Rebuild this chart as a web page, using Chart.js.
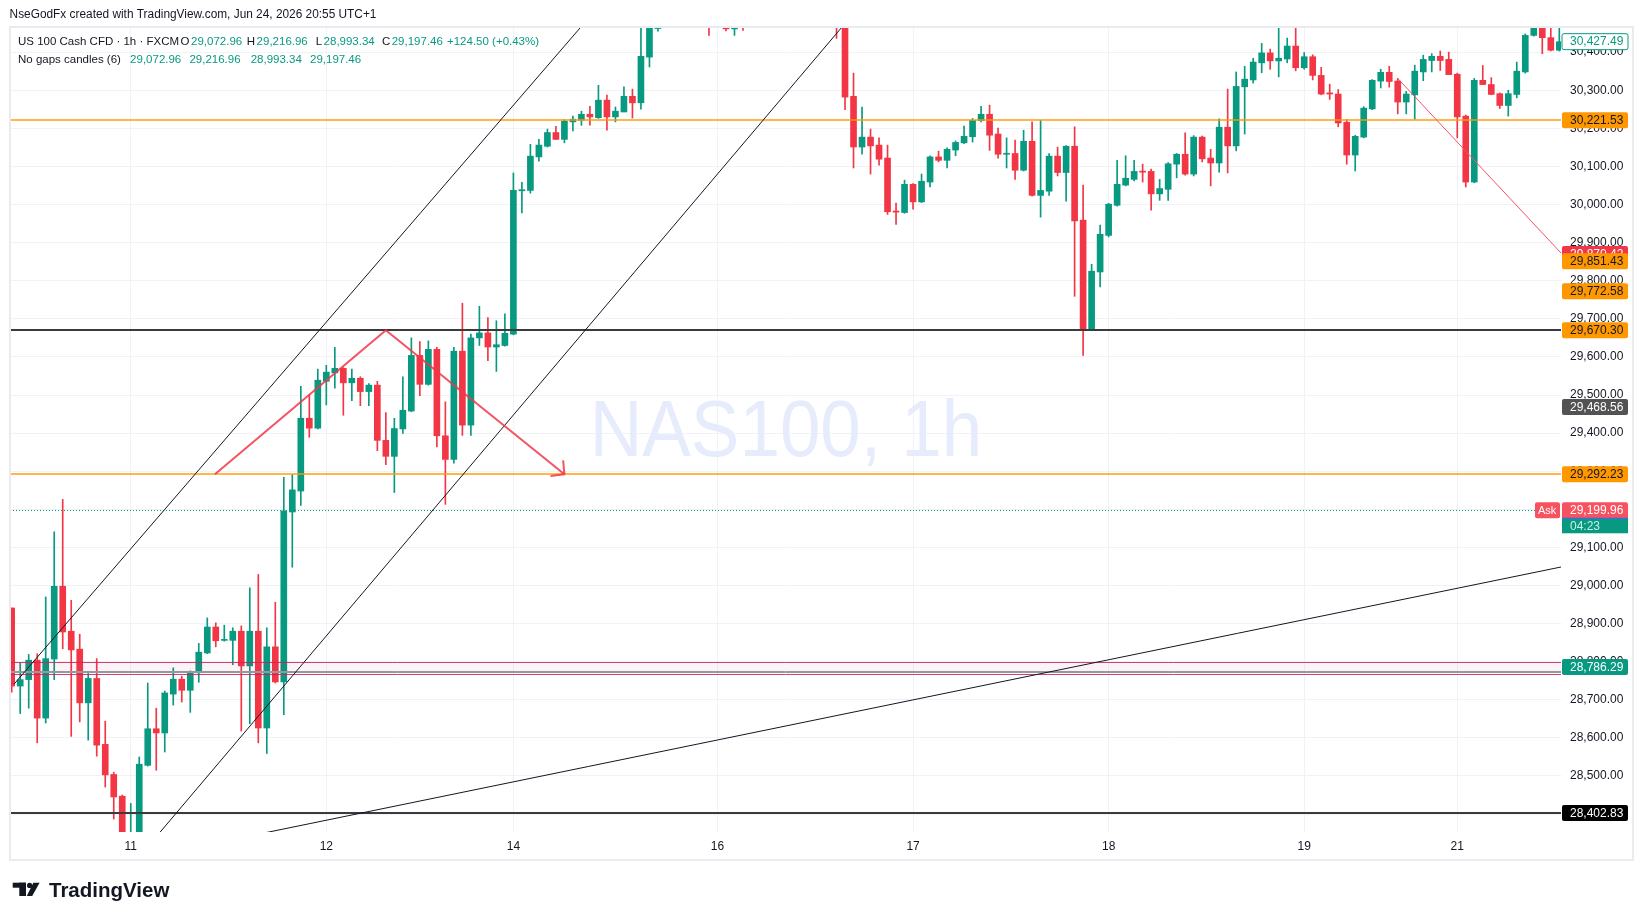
<!DOCTYPE html>
<html>
<head>
<meta charset="utf-8">
<title>NAS100, 1h</title>
<script src="https://cdn.jsdelivr.net/npm/chart.js@4.4.1/dist/chart.umd.min.js"></script>
<style>
  html, body { margin: 0; padding: 0; background: #ffffff; }
  #wrap { width: 1643px; height: 920px; }
</style>
</head>
<body>
<div id="wrap"><canvas id="chart" width="1643" height="920"></canvas></div>
<script>
// hourly candles, index 0..182 (no gaps)
const opens = [
  28941,28736,28753,28804,28652,28807,28998,28880,28833,28692,
  28756,28583,28504,28447,28340,28345,28528,28624,28613,28715,
  28754,28725,28771,28823,28891,28856,28856,28880,28789,28880,
  28626,28839,28747,29193,29248,29439,29413,29536,29558,29570,
  29532,29544,29509,29526,29381,29339,29411,29458,29604,29528,
  29620,29393,29331,29615,29421,29650,29663,29626,29630,29660,
  30036,30037,30125,30153,30189,30171,30217,30221,30237,30228,
  30274,30230,30243,30284,30267,30387,30462,30520,30560,30545,
  30595,30575,30510,30480,30525,30461,30505,30490,30560,30595,
  30580,30635,30620,30600,30575,30610,30590,30540,30500,30284,
  30151,30177,30156,30122,29983,29979,30053,30007,30059,30125,
  30116,30143,30162,30178,30220,30237,30185,30132,30134,30090,
  30166,30024,30035,30127,30084,30153,29959,29672,29823,29919,
  29998,30051,30066,30087,30087,30028,30040,30106,30132,30080,
  30177,30122,30109,30203,30154,30309,30327,30372,30398,30377,
  30382,30416,30359,30388,30339,30293,30290,30216,30130,30177,
  30251,30324,30347,30324,30269,30288,30348,30378,30389,30381,
  30342,30232,30059,30326,30315,30291,30260,30289,30348,30444,
  30470,30438,30405
];
const highs = [
  28941,28797,28819,28821,28970,29141,29226,28961,28872,28769,
  28808,28644,28510,28450,28428,28550,28744,28678,28723,28784,
  28762,28776,28848,28915,28902,28896,28889,28894,28994,29029,
  28889,28956,29284,29291,29523,29500,29568,29578,29625,29572,
  29568,29548,29530,29536,29454,29439,29548,29650,29640,29642,
  29625,29482,29625,29741,29660,29733,29703,29695,29713,30083,
  30058,30158,30171,30198,30205,30223,30232,30245,30258,30313,
  30287,30256,30309,30303,30480,30490,30540,30575,30600,30610,
  30640,30590,30530,30540,30535,30520,30560,30580,30610,30630,
  30650,30680,30660,30640,30620,30650,30605,30560,30530,30345,
  30256,30198,30175,30156,30004,30064,30055,30080,30128,30140,
  30149,30167,30206,30226,30258,30261,30201,30175,30169,30195,
  30217,30221,30134,30151,30155,30204,30051,29843,29946,30003,
  30116,30128,30116,30106,30093,30066,30110,30134,30188,30181,
  30180,30145,30225,30303,30348,30363,30384,30423,30408,30465,
  30437,30475,30399,30393,30360,30316,30302,30223,30182,30257,
  30328,30355,30363,30331,30297,30366,30392,30396,30403,30400,
  30345,30235,30331,30365,30333,30293,30300,30374,30448,30480,
  30485,30480,30480
];
const lows = [
  28720,28664,28678,28587,28639,28753,28834,28604,28642,28594,
  28552,28471,28387,28320,28300,28310,28526,28515,28563,28686,
  28694,28667,28746,28821,28839,28854,28792,28618,28637,28587,
  28559,28744,28661,29048,29210,29389,29411,29474,29518,29447,
  29485,29472,29472,29354,29317,29244,29399,29456,29498,29526,
  29364,29213,29321,29394,29394,29630,29590,29562,29628,29658,
  29978,30030,30114,30151,30171,30162,30193,30208,30208,30226,
  30195,30217,30243,30227,30250,30361,30455,30500,30530,30535,
  30560,30490,30444,30470,30456,30444,30457,30480,30540,30570,
  30575,30610,30590,30560,30550,30580,30520,30436,30249,30096,
  30132,30080,30103,29974,29948,29977,29988,30005,30046,30112,
  30096,30128,30160,30164,30217,30142,30122,30096,30066,30088,
  30022,29967,30024,30075,30009,29759,29604,29670,29784,29915,
  29996,30049,30062,30059,29985,30011,30011,30070,30077,30075,
  30112,30049,30085,30083,30141,30185,30319,30346,30355,30335,
  30372,30351,30355,30327,30288,30276,30204,30106,30088,30175,
  30249,30306,30308,30238,30238,30224,30325,30348,30352,30341,
  30175,30046,30057,30315,30288,30252,30232,30280,30345,30442,
  30396,30403,30403
];
const closes = [
  28736,28753,28804,28652,28808,28998,28878,28831,28692,28756,
  28581,28503,28445,28340,28345,28531,28624,28613,28718,28754,
  28725,28773,28825,28891,28855,28858,28880,28789,28880,28626,
  28839,28747,29196,29251,29439,29413,29539,29560,29570,29532,
  29544,29509,29526,29381,29339,29412,29460,29604,29528,29620,
  29393,29331,29615,29421,29650,29663,29626,29632,29662,30037,
  30039,30127,30156,30189,30171,30219,30224,30237,30230,30274,
  30230,30245,30284,30267,30389,30464,30520,30560,30545,30595,
  30575,30510,30480,30525,30461,30505,30490,30560,30595,30580,
  30635,30620,30600,30575,30610,30590,30540,30500,30282,30151,
  30177,30154,30119,29981,29980,30053,30007,30061,30125,30116,
  30145,30163,30179,30221,30237,30182,30132,30134,30090,30166,
  30024,30037,30127,30084,30153,29957,29672,29825,29922,30001,
  30053,30069,30087,30085,30028,30042,30107,30132,30080,30177,
  30120,30109,30203,30154,30310,30329,30374,30398,30377,30384,
  30416,30359,30388,30339,30290,30290,30214,30130,30179,30253,
  30326,30347,30323,30269,30290,30350,30381,30389,30378,30341,
  30230,30059,30326,30315,30289,30260,30291,30350,30444,30464,
  30438,30405,30427.49
];

// time axis: candle index of each day label
const dayTicks = [14, 37, 59, 83, 106, 129, 152, 170];
const dayLabels = ['11', '12', '14', '16', '17', '18', '19', '21'];
const priceTicks = [28400, 28500, 28600, 28700, 28800, 28900, 29000, 29100, 29200, 29300,
  29400, 29500, 29600, 29700, 29800, 29900, 30000, 30100, 30200, 30300, 30400];

// horizontal levels
const orangeLevels = [30221.53, 29292.23];
const blackLevels = [29670.30, 28402.83];
const zoneBand = [28769, 28800];
const zoneInner = [28773, 28776];
const lastPrice = 29197.46;
const askPrice = 29199.96;
const countdown = '04:23';

// axis tags
const orangeTags = [30221.53, 29851.43, 29772.58, 29670.30, 29292.23];
const redTag = 29870.42;
const greyTag = 29468.56;
const tealTag = 28786.29;
const blackTag = 28402.83;
const lastBarClose = 30427.49;

// drawings as [index, price]
const upperChannel = [[0.27, 28741], [80, 30804]];
const lowerChannel = [[15, 28288], [100, 30528]];
const longTrend = [[25, 28329], [182.3, 29049]];
const zigzag = [[23.9, 29292], [44, 29670], [65, 29292]];
const redRay = [[163, 30331], [182.3, 29870.42]];

// legend values
const legendOHLC = [29072.96, 29216.96, 28993.34, 29197.46];
const legendChange = '+124.50 (+0.43%)';

const FONT = '"Liberation Sans", Arial, sans-serif';
const GREEN = '#089981';
const RED = '#f23645';
const TEXT = '#131722';

const idx = opens.map((_, i) => i);
const colors = idx.map(i => closes[i] >= opens[i] ? GREEN : RED);
const fmt = v => v.toLocaleString('en-US', { minimumFractionDigits: 2, maximumFractionDigits: 2 });

function polyline(chart, pts) {
  const ctx = chart.ctx, xs = chart.scales.x, ys = chart.scales.y;
  ctx.beginPath();
  pts.forEach((p, k) => {
    const x = xs.getPixelForValue(p[0]), y = ys.getPixelForValue(p[1]);
    if (k === 0) ctx.moveTo(x, y); else ctx.lineTo(x, y);
  });
  ctx.stroke();
}

function hline(chart, price, color, width, dash) {
  const ctx = chart.ctx, a = chart.chartArea;
  const y = Math.round(chart.scales.y.getPixelForValue(price)) + (width % 2 ? 0.5 : 0);
  ctx.save();
  ctx.strokeStyle = color;
  ctx.lineWidth = width;
  ctx.setLineDash(dash || []);
  ctx.beginPath();
  ctx.moveTo(a.left, y);
  ctx.lineTo(a.right, y);
  ctx.stroke();
  ctx.restore();
}

function tag(chart, price, text, bg, fg, border) {
  const ctx = chart.ctx;
  const x = chart.chartArea.right + 1, w = 66, h = 16;
  const y = chart.scales.y.getPixelForValue(price);
  ctx.save();
  ctx.beginPath();
  ctx.roundRect(x, y - h / 2, w, h, 2);
  ctx.fillStyle = bg;
  ctx.fill();
  if (border) {
    ctx.strokeStyle = border;
    ctx.lineWidth = 1;
    ctx.stroke();
  }
  ctx.fillStyle = fg;
  ctx.font = '12px ' + FONT;
  ctx.textBaseline = 'middle';
  ctx.textAlign = 'left';
  ctx.fillText(text, x + 8, y + 0.5);
  ctx.restore();
}

function fitText(ctx, text, x, y, width, weight) {
  ctx.font = (weight || '') + ' 10px ' + FONT;
  const size = 10 * width / ctx.measureText(text).width;
  ctx.font = (weight || '') + ' ' + size.toFixed(2) + 'px ' + FONT;
  ctx.fillText(text, x, y);
}

// draw text runs left to right, never letting one run into the next
function runs(ctx, parts, y) {
  let end = 0;
  parts.forEach(s => {
    const x = Math.max(s[1], end + 1.5);
    ctx.fillStyle = s[2];
    ctx.fillText(s[0], x, y);
    end = x + ctx.measureText(s[0]).width;
  });
}

const overlay = {
  id: 'overlay',
  beforeDatasetsDraw(chart) {
    const ctx = chart.ctx;
    ctx.save();
    ctx.fillStyle = '#e7ecfc';
    ctx.font = '80px ' + FONT;
    ctx.textAlign = 'center';
    ctx.textBaseline = 'alphabetic';
    ctx.translate(786, 456);
    ctx.scale(0.91, 1);
    ctx.fillText('NAS100, 1h', 0, 0);
    ctx.restore();
  },
  afterDatasetsDraw(chart) {
    const ctx = chart.ctx, a = chart.chartArea, xs = chart.scales.x, ys = chart.scales.y;
    ctx.save();
    ctx.beginPath();
    ctx.rect(a.left, a.top, a.right - a.left, a.bottom - a.top);
    ctx.clip();

    // pink zone
    const zt = ys.getPixelForValue(zoneBand[1]), zb = ys.getPixelForValue(zoneBand[0]);
    ctx.fillStyle = 'rgba(194,24,91,0.05)';
    ctx.fillRect(a.left, zt, a.right - a.left, zb - zt);
    zoneInner.forEach(v => hline(chart, v, '#9598a1', 1));
    zoneBand.forEach(v => hline(chart, v, 'rgba(204,32,92,0.85)', 1));

    orangeLevels.forEach(v => hline(chart, v, 'rgba(255,152,0,0.7)', 2));
    blackLevels.forEach(v => hline(chart, v, '#3b3b3b', 2));

    // last price dotted line
    const ly = Math.round(ys.getPixelForValue(lastPrice)) + 0.5;
    ctx.strokeStyle = GREEN;
    ctx.lineWidth = 1;
    ctx.setLineDash([1, 2]);
    ctx.beginPath();
    ctx.moveTo(a.left, ly);
    ctx.lineTo(a.right - 26, ly);
    ctx.stroke();
    ctx.setLineDash([]);

    // channel and trend lines
    ctx.strokeStyle = TEXT;
    ctx.lineWidth = 1;
    polyline(chart, upperChannel);
    polyline(chart, lowerChannel);
    polyline(chart, longTrend);

    // red ray
    ctx.strokeStyle = '#f7525f';
    polyline(chart, redRay);

    // zigzag arrow
    ctx.strokeStyle = 'rgba(242,54,69,0.85)';
    ctx.lineWidth = 2;
    ctx.lineJoin = 'round';
    polyline(chart, zigzag);
    const p1 = zigzag[zigzag.length - 2], p2 = zigzag[zigzag.length - 1];
    const x1 = xs.getPixelForValue(p1[0]), y1 = ys.getPixelForValue(p1[1]);
    const x2 = xs.getPixelForValue(p2[0]), y2 = ys.getPixelForValue(p2[1]);
    const ang = Math.atan2(y1 - y2, x1 - x2);
    ctx.beginPath();
    ctx.moveTo(x2 + 14 * Math.cos(ang - 0.8), y2 + 14 * Math.sin(ang - 0.8));
    ctx.lineTo(x2, y2);
    ctx.lineTo(x2 + 14 * Math.cos(ang + 0.8), y2 + 14 * Math.sin(ang + 0.8));
    ctx.stroke();
    ctx.restore();
  },
  afterDraw(chart) {
    const ctx = chart.ctx, a = chart.chartArea, ys = chart.scales.y;

    // price axis tags
    tag(chart, lastBarClose, fmt(lastBarClose), '#ffffff', GREEN, GREEN);
    tag(chart, redTag, fmt(redTag), RED, '#ffffff');
    orangeTags.forEach(v => tag(chart, v, fmt(v), '#ff9800', TEXT));
    tag(chart, greyTag, fmt(greyTag), '#535353', '#ffffff');
    tag(chart, tealTag, fmt(tealTag), GREEN, '#ffffff');
    tag(chart, blackTag, fmt(blackTag), '#000000', '#ffffff');

    // ask / countdown tag
    const y = ys.getPixelForValue(lastPrice);
    ctx.save();
    ctx.fillStyle = GREEN;
    ctx.fillRect(a.right + 1, y + 8, 66, 15);
    ctx.fillStyle = '#f7525f';
    ctx.beginPath();
    ctx.roundRect(a.right + 1, y - 8, 66, 16, [2, 2, 0, 0]);
    ctx.fill();
    ctx.beginPath();
    ctx.roundRect(a.right - 26, y - 8, 25, 16, 2);
    ctx.fill();
    ctx.fillStyle = '#2962ff';
    ctx.fillRect(a.right + 1, y + 7.5, 66, 1);
    ctx.fillStyle = '#ffffff';
    ctx.font = '12px ' + FONT;
    ctx.textBaseline = 'middle';
    ctx.fillText(fmt(askPrice), a.right + 9, y + 0.5);
    ctx.font = '11px ' + FONT;
    ctx.fillText('Ask', a.right - 23, y + 0.5);
    ctx.fillStyle = '#c8efe4';
    ctx.font = '12px ' + FONT;
    ctx.fillText(countdown, a.right + 9, y + 16);
    ctx.restore();

    // pane frame
    ctx.save();
    ctx.strokeStyle = '#e9ebf0';
    ctx.lineWidth = 2;
    ctx.strokeRect(10, 27, 1623, 833);
    ctx.restore();

    // header and legend
    ctx.save();
    ctx.textBaseline = 'middle';
    ctx.fillStyle = TEXT;
    fitText(ctx, 'NseGodFx created with TradingView.com, Jun 24, 2026 20:55 UTC+1', 9.6, 15.2, 367);
    ctx.font = '11.5px ' + FONT;
    const v = legendOHLC.map(fmt);
    runs(ctx, [
      ['US 100 Cash CFD \u00b7 1h \u00b7 FXCM', 18, TEXT], ['O', 180.6, TEXT], [v[0], 188, GREEN],
      ['H', 246.8, TEXT], [v[1], 255.6, GREEN], ['L', 315.7, TEXT], [v[2], 322.2, GREEN],
      ['C', 381.9, TEXT], [v[3], 389.6, GREEN], [legendChange, 447, GREEN]
    ], 42.3);
    runs(ctx, [
      ['No gaps candles (6)', 18, TEXT], [v[0], 130.1, GREEN], [v[1], 189.4, GREEN],
      [v[2], 250.7, GREEN], [v[3], 310, GREEN]
    ], 60);
    ctx.restore();

    // TradingView logo
    ctx.save();
    ctx.fillStyle = TEXT;
    ctx.fillRect(12.7, 882.7, 13.3, 5);
    ctx.fillRect(19.3, 882.7, 6.7, 13.3);
    ctx.beginPath();
    ctx.arc(29.6, 885.4, 2.6, 0, Math.PI * 2);
    ctx.fill();
    ctx.beginPath();
    ctx.moveTo(33.3, 882.7);
    ctx.lineTo(39.6, 882.7);
    ctx.lineTo(32.2, 896);
    ctx.lineTo(26.8, 896);
    ctx.closePath();
    ctx.fill();
    ctx.font = 'bold 20.5px ' + FONT;
    ctx.textBaseline = 'alphabetic';
    ctx.fillText('TradingView', 49, 896.5);
    ctx.restore();
  }
};

new Chart(document.getElementById('chart'), {
  type: 'bar',
  data: {
    datasets: [
      {
        label: 'wicks',
        data: idx.map(i => ({ x: i, y: [lows[i], highs[i]] })),
        backgroundColor: colors,
        barThickness: 1,
        grouped: false,
        order: 2,
        clip: 0
      },
      {
        label: 'bodies',
        data: idx.map(i => ({ x: i, y: [opens[i], closes[i]] })),
        backgroundColor: colors,
        barThickness: 6,
        minBarLength: 1,
        grouped: false,
        order: 1,
        clip: 0
      }
    ]
  },
  options: {
    responsive: false,
    animation: false,
    devicePixelRatio: 1,
    layout: { padding: { left: 10, top: 27, right: 10, bottom: 60 } },
    plugins: {
      legend: { display: false },
      tooltip: { enabled: false }
    },
    scales: {
      x: {
        type: 'linear',
        min: -0.2,
        max: 182.2,
        offset: false,
        afterBuildTicks: s => { s.ticks = dayTicks.map(v => ({ value: v })); },
        afterFit: s => { s.height = 28; },
        grid: { color: '#f0f2f5', drawTicks: false, offset: false },
        border: { display: false },
        ticks: {
          autoSkip: false,
          maxRotation: 0,
          padding: 7,
          color: TEXT,
          font: { size: 12, family: FONT },
          callback: v => { const k = dayTicks.indexOf(v); return k < 0 ? '' : dayLabels[k]; }
        }
      },
      y: {
        position: 'right',
        min: 28353,
        max: 30466,
        afterBuildTicks: s => { s.ticks = priceTicks.map(v => ({ value: v })); },
        afterFit: s => { s.width = 72; },
        grid: { color: '#f0f2f5', drawTicks: false },
        border: { display: false },
        ticks: {
          padding: 9,
          color: TEXT,
          font: { size: 12, family: FONT },
          callback: v => fmt(v)
        }
      }
    }
  },
  plugins: [overlay]
});
</script>
</body>
</html>
